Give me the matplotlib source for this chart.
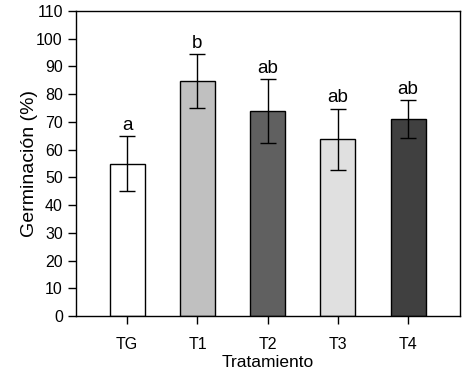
import matplotlib
matplotlib.use('Agg')
import matplotlib.pyplot as plt

plt.rcParams['font.family'] = ['Liberation Sans', 'DejaVu Sans']

tratamientos = ['TG', 'T1', 'T2', 'T3', 'T4']
germinacion = [55.0, 84.7, 73.8, 63.8, 71.0]
error = [10.0, 9.8, 11.5, 11.0, 6.9]
letras = ['a', 'b', 'ab', 'ab', 'ab']
colores = ['#ffffff', '#c0c0c0', '#606060', '#e0e0e0', '#404040']

fig = plt.figure(figsize=(4.72, 3.78), dpi=100)
ax = fig.add_axes([76 / 472, 1 - 316 / 378, (460 - 76) / 472, (316 - 11) / 378])

x = list(range(len(tratamientos)))
ax.bar(x, germinacion, width=0.5, color=colores, edgecolor='black', linewidth=1)
ax.errorbar(x, germinacion, yerr=error, fmt='none', ecolor='black',
            elinewidth=1, capsize=6, capthick=1)

# letras de significancia sobre las barras de error
for xi, v, e, l in zip(x, germinacion, error, letras):
    ax.text(xi, v + e + 0.8, l, ha='center', va='bottom', fontsize=13.5)

ax.set_xlim(-0.73, 4.74)
ax.set_ylim(0, 110)
ax.set_yticks(range(0, 111, 10))
ax.set_xticks(x)
ax.set_xticklabels(tratamientos)
ax.tick_params(axis='both', direction='out', labelsize=11.5, length=6, width=1)
ax.tick_params(axis='x', pad=9)
for s in ax.spines.values():
    s.set_linewidth(1)

ax.set_xlabel('Tratamiento', fontsize=12.5, labelpad=2)
ax.set_ylabel('Germinación (%)', fontsize=14, labelpad=-1)

fig.savefig('out.png', dpi=100)
